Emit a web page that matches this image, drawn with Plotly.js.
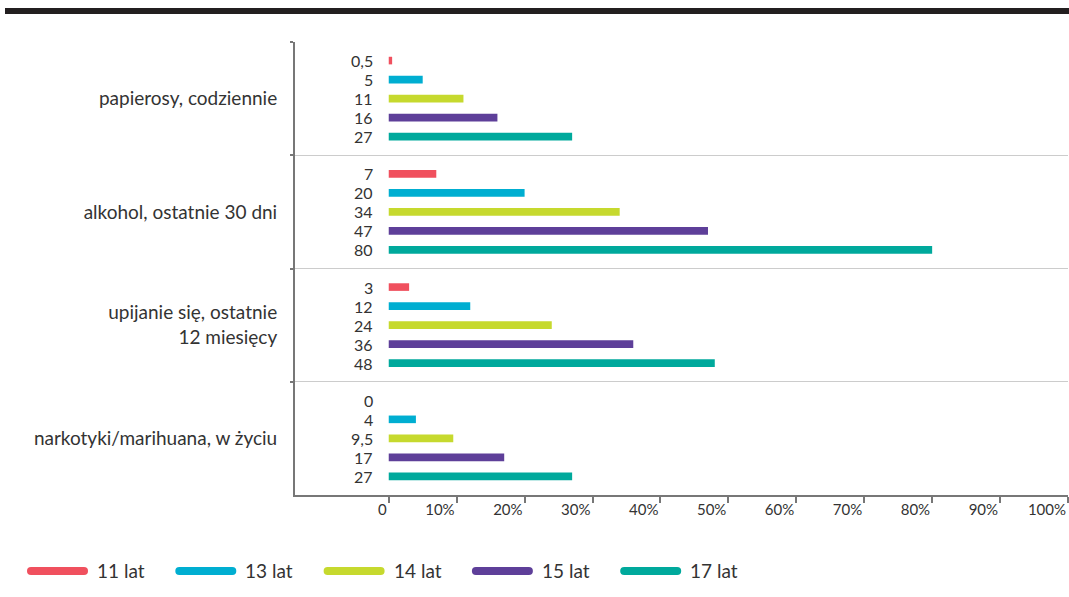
<!DOCTYPE html>
<html><head><meta charset="utf-8">
<script src="https://cdn.plot.ly/plotly-3.0.1.min.js"></script>
<style>
html,body{margin:0;padding:0;background:#fff;}
#chart{width:1069px;height:597px;}
.shapelayer path{stroke-linecap:round;}
</style>
</head><body>
<div id="chart"></div>
<script>
const categories = ['papierosy, codziennie','alkohol, ostatnie 30 dni','upijanie się, ostatnie<br>12 miesięcy','narkotyki/marihuana, w życiu'];
const seriesNames = ['11 lat','13 lat','14 lat','15 lat','17 lat'];
const v11 = [0.5, 7, 3, 0];
const v13 = [5, 20, 12, 4];
const v14 = [11, 34, 24, 9.5];
const v15 = [16, 47, 36, 17];
const v17 = [27, 80, 48, 27];
const xTickVals = [0,10,20,30,40,50,60,70,80,90,100];
const xTickText = ['0','10%','20%','30%','40%','50%','60%','70%','80%','90%','100%'];
const colors = ['#f0505e','#00aed1','#c6d92e','#5e3f99','#00a99c'];
const allSeries = [v11, v13, v14, v15, v17];

const W = 1069, H = 597;
const margin = {l:295, r:1, t:42, b:102};
const plotW = W - margin.l - margin.r, plotH = H - margin.t - margin.b;
const bargap = 0.16;
const catPx = plotH / categories.length;
const slotPx = catPx * (1 - bargap) / seriesNames.length;

const fmt = v => String(v).replace('.', ',');
const font = 'Lato, "Open Sans", sans-serif';
const txt = '#333333';

const traces = allSeries.map((vals, j) => ({
  type:'bar', orientation:'h', name: seriesNames[j],
  y: categories, x: vals,
  marker:{color: colors[j]}, hoverinfo:'skip', showlegend:false
}));

const annotations = [];
allSeries.forEach((vals, j) => {
  vals.forEach((v, i) => {
    annotations.push({x:0, y:categories[i], xref:'x', yref:'y', text: fmt(v),
      showarrow:false, xanchor:'right', yanchor:'middle', xshift:-14,
      yshift: -(j - (seriesNames.length-1)/2) * slotPx,
      font:{family:font, size:16, color:txt}});
  });
});

const px2x = p => (p - margin.l) / plotW;
const py2y = p => (H - margin.b - p) / plotH;
const shapes = [{type:'rect', xref:'paper', yref:'paper', x0:px2x(5), x1:px2x(1069), y0:py2y(14), y1:py2y(8),
  fillcolor:'#231f20', line:{width:0}}];
seriesNames.forEach((n, j) => {
  const x0 = 31 + j*148.3, x1 = x0 + 53;
  shapes.push({type:'line', xref:'paper', yref:'paper', x0:px2x(x0), x1:px2x(x1), y0:py2y(571), y1:py2y(571),
    line:{color: colors[j], width:8}});
  annotations.push({xref:'paper', yref:'paper', x:px2x(x1+11), y:py2y(570), text:n, showarrow:false,
    xanchor:'left', yanchor:'middle', font:{family:font, size:19, color:txt}});
});

const layout = {
  width:W, height:H, margin: margin,
  paper_bgcolor:'#fff', plot_bgcolor:'#fff',
  barmode:'group', bargap: bargap, bargroupgap: 0.6,
  font:{family:font, color:txt},
  showlegend:false,
  xaxis:{range:[-13.8, 100], tickvals:xTickVals, ticktext:xTickText, ticks:'outside', ticklen:6, tickwidth:2,
    tickcolor:'#777', showline:true, linecolor:'#777', linewidth:2, showgrid:false, zeroline:false,
    ticklabelposition:'outside left', tickfont:{family:font, size:15, color:txt}, fixedrange:true},
  yaxis:{type:'category', autorange:'reversed', tickson:'boundaries', ticks:'outside', ticklen:3, tickwidth:2,
    tickcolor:'#777', showline:true, linecolor:'#777', linewidth:2, showgrid:true, gridcolor:'#cccccc', gridwidth:1,
    tickfont:{family:font, size:19, color:txt}, ticklabelstandoff:12, fixedrange:true},
  shapes: shapes, annotations: annotations
};
Plotly.newPlot('chart', traces, layout, {displayModeBar:false, staticPlot:true});
</script>
</body></html>
